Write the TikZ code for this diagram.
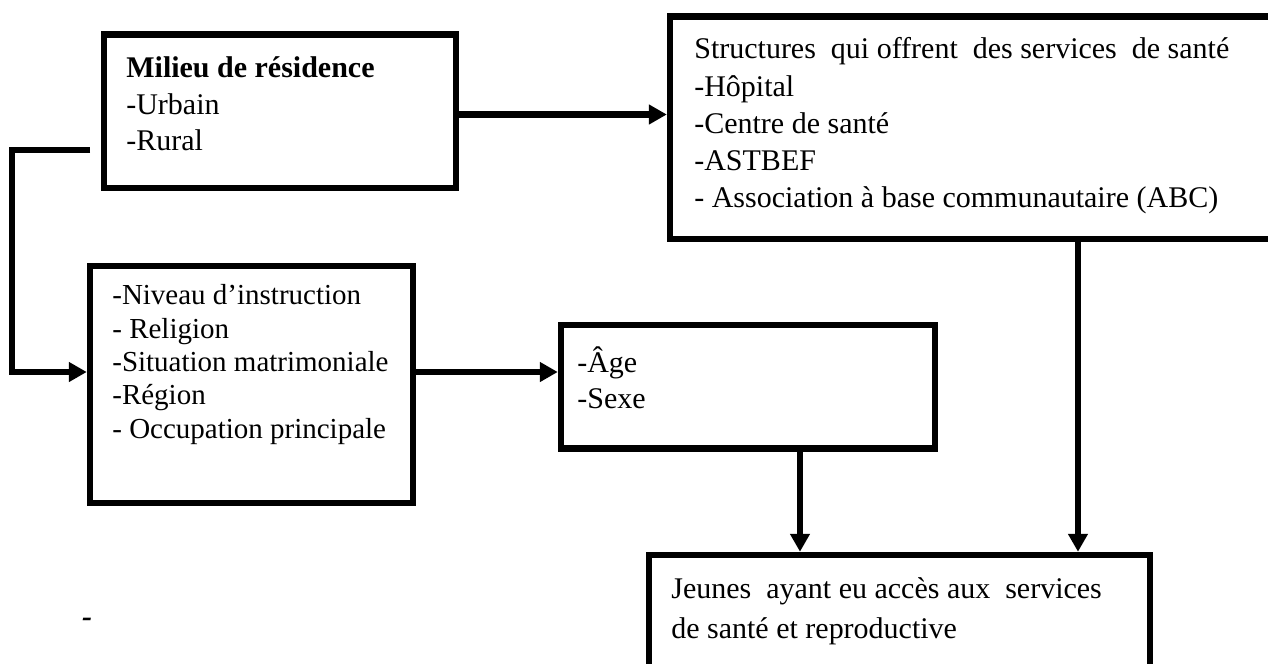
\documentclass[tikz,border=0pt]{standalone}
\usepackage{fontspec}
\setmainfont{Liberation Serif}
\usetikzlibrary{arrows.meta}

\tikzstyle{box} = [draw, line width=3.7pt, inner sep=0pt]
\tikzstyle{txt} = [anchor=north west, align=left, inner sep=0pt, font=\fontsize{17.07}{20.8}\selectfont]
\tikzstyle{arrow} = [line width=3.7pt, -{Triangle[length=0.36cm,width=0.38cm]}]

\begin{document}
\begin{tikzpicture}[x=0.02cm, y=-0.02cm]
      \useasboundingbox (0,0) rectangle (1268,663);
      \clip (0,0) rectangle (1268,663);

      \node[box, minimum width=7.04cm, minimum height=3.07cm] (milieu) at (280,111.25) {};
      \node[box, minimum width=12.1cm, minimum height=4.45cm] (structures) at (972.5,127.75) {};
      \node[box, minimum width=6.46cm, minimum height=4.74cm] (niveau) at (251.5,384.5) {};
      \node[box, minimum width=7.48cm, minimum height=2.47cm] (age) at (748,386.75) {};
      \node[box, minimum width=10.02cm, minimum height=2.9cm] (jeunes) at (899.5,627.5) {};

      \node[txt] (milieu-txt) at (126,56.5) {\textbf{Milieu de résidence}\\-Urbain\\-Rural};
      \node[txt, font=\fontsize{17.07}{21.2}\selectfont] (structures-txt) at (694,37.5)
            {Structures\ \ qui offrent\ \ des services\ \ de santé\\-Hôpital\\-Centre de santé\\-ASTBEF\\- Association à base communautaire (ABC)};
      \node[txt, font=\fontsize{16.5}{18.95}\selectfont] (niveau-txt) at (112,284.5)
            {-Niveau d’instruction\\- Religion\\-Situation matrimoniale\\-Région\\- Occupation principale};
      \node[txt, font=\fontsize{17.07}{20.5}\selectfont] (age-txt) at (577,346) {-Âge\\-Sexe};
      \node[txt, font=\fontsize{17.07}{22.8}\selectfont] (jeunes-txt) at (671,577.5)
            {Jeunes\ \ ayant eu accès aux\ \ services\\de santé et reproductive};
      \node[inner sep=0pt, font=\fontsize{17.07}{20}\selectfont] (dash) at (87,622) {\bfseries\itshape -};

      \coordinate (start) at (90,150);
      \coordinate (bend) at (12,372);
      \coordinate (milieu-out) at ([yshift=-0.065cm]milieu.east);
      \coordinate (age-out) at ([xshift=1.04cm]age.south);
      \coordinate (structures-out) at ([xshift=2.11cm]structures.south);

      \draw[arrow] (milieu-out) -- (milieu-out -| structures.west);
      \draw[arrow] (start) -| (bend) -- (niveau.west |- bend);
      \draw[arrow] (niveau.east |- bend) -- (age.west |- bend);
      \draw[arrow] (age-out) -- (age-out |- jeunes.north);
      \draw[arrow] (structures-out) -- (structures-out |- jeunes.north);
\end{tikzpicture}
\end{document}
